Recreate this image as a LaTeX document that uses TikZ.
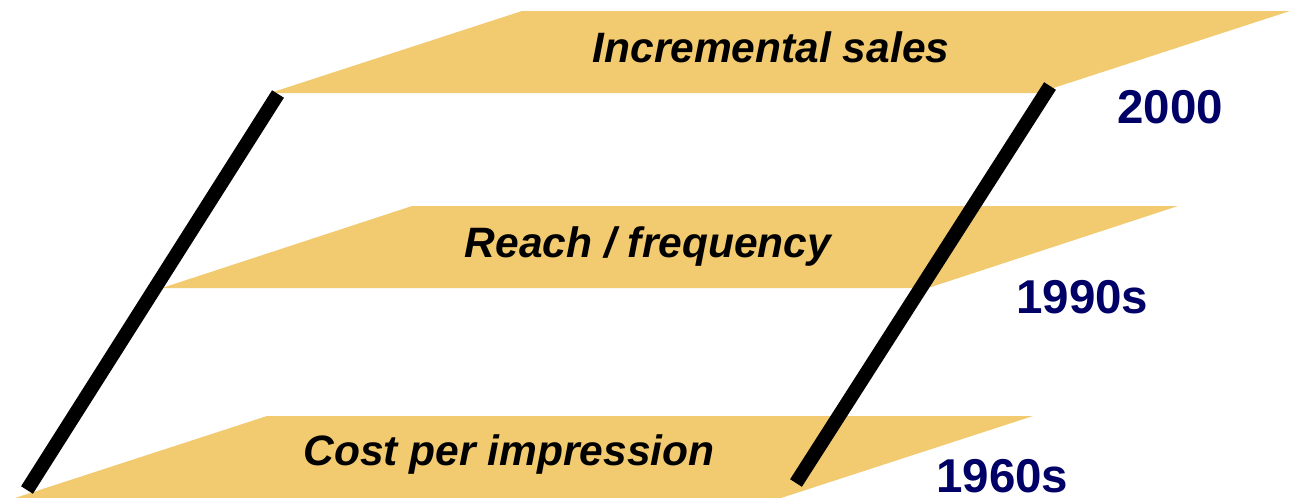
\documentclass[tikz,border=0pt]{standalone}
\usepackage{fontspec}
\setmainfont{Liberation Sans}
\definecolor{band}{HTML}{F2CA70}
\definecolor{yearblue}{HTML}{000066}
\begin{document}
\begin{tikzpicture}[x=1pt,y=-1pt,
  bandfill/.style={fill=band,draw=none},
  levellabel/.style={anchor=base,inner sep=0pt,font=\fontsize{42.5}{42.5}\selectfont\bfseries\itshape},
  yearlabel/.style={anchor=base west,inner sep=0pt,text=yearblue,font=\fontsize{47.5}{47.5}\selectfont\bfseries},
  pillar/.style={line width=14pt,line cap=butt}]
\useasboundingbox (0,0) rectangle (1294,498);

% three slanted planes
\fill[bandfill] (270,93) -- (522,11) -- (1290,11) -- (1038,93) -- cycle;
\fill[bandfill] (162,288) -- (412,206) -- (1178,206) -- (928,288) -- cycle;
\fill[bandfill] (15,498) -- (267,416) -- (1033,416) -- (781,498) -- cycle;

% plane labels
\node[levellabel] (top)    at (771,62)  {Incremental sales};
\node[levellabel] (middle) at (648,257) {Reach / frequency};
\node[levellabel] (bottom) at (509,465) {Cost per impression};

% pillars joining the planes
\coordinate (lt) at (278,94);
\coordinate (lb) at (27,490);
\coordinate (rt) at (1050,86);
\coordinate (rb) at (796,483);
\draw[pillar] (lt) -- (lb);
\draw[pillar] (rt) -- (rb);

% years
\node[yearlabel] (y2000) at (1117,123) {2000};
\node[yearlabel] (y1990) at (1016,313) {1990s};
\node[yearlabel] (y1960) at (936,492) {1960s};
\end{tikzpicture}
\end{document}
